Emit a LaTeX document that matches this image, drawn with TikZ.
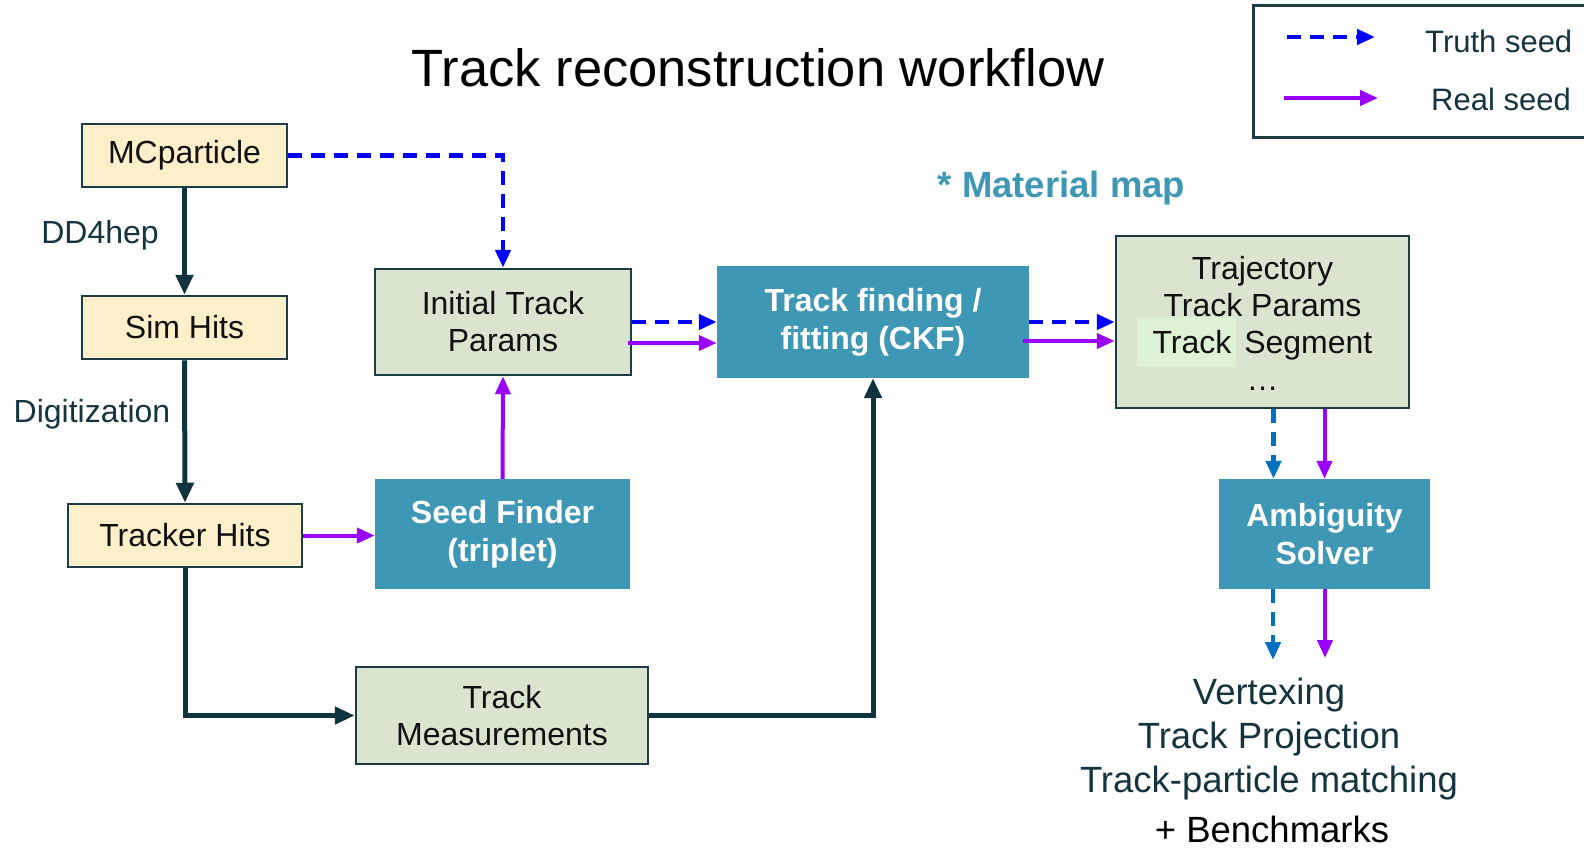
\documentclass[tikz,border=0pt]{standalone}
\usepackage{fontspec}
\setmainfont{Liberation Sans}
\usetikzlibrary{arrows.meta,calc}
\definecolor{tealc}{HTML}{3E97B4}
\definecolor{creamc}{HTML}{FCEFC9}
\definecolor{greenc}{HTML}{DAE5D0}
\definecolor{hlc}{HTML}{DDF2D4}
\definecolor{bordc}{HTML}{1E3C46}
\definecolor{flowc}{HTML}{10343F}
\definecolor{txtc}{HTML}{111111}
\definecolor{lblc}{HTML}{14343F}
\definecolor{truthc}{HTML}{0000FF}
\definecolor{truthb}{HTML}{0070C0}
\definecolor{realc}{HTML}{9900FF}
\tikzset{
  box/.style={draw=bordc, line width=2.5pt, inner sep=0pt, align=center,
    font=\fontsize{32}{37}\selectfont, text=txtc},
  ybox/.style={box, fill=creamc},
  gbox/.style={box, fill=greenc},
  tbox/.style={fill=tealc, inner sep=0pt, align=center, text=white,
    font=\bfseries\fontsize{32}{38}\selectfont},
  lbl/.style={inner sep=0pt, text=lblc, font=\fontsize{32}{37}\selectfont},
  ctip/.style={-{Triangle[length=18pt,width=15pt]}},
  truth/.style={draw=truthc, line width=4.5pt, dash pattern=on 14pt off 9pt, ctip},
  truthlow/.style={draw=truthb, line width=4.5pt, dash pattern=on 14pt off 9pt, ctip},
  real/.style={draw=realc, line width=4pt, ctip},
  flow/.style={draw=flowc, line width=5pt, -{Triangle[length=20pt,width=17pt]}},
}
\begin{document}
\begin{tikzpicture}[x=1pt,y=-1pt]
\useasboundingbox (0,0) rectangle (1584,849);
\clip (0,0) rectangle (1584,849);
\fill[white] (0,0) rectangle (1584,849);

% title
\node[inner sep=0pt, font=\fontsize{52.5}{60}\selectfont, text=black] (title) at (758,68) {Track reconstruction workflow};

% legend
\node[draw=bordc, line width=2.5pt, minimum width=345pt, minimum height=132pt, inner sep=0pt, anchor=north west] (legend) at (1252,4) {};
\coordinate (lt1) at (1287,37);
\coordinate (lt2) at (1375,37);
\draw[truth] (lt1) -- (lt2);
\coordinate (lr1) at (1284,98);
\coordinate (lr2) at (1378,98);
\draw[real] (lr1) -- (lr2);
\node[lbl, anchor=west, font=\fontsize{31}{37}\selectfont] (ltruth) at (1425,41) {Truth seed};
\node[lbl, anchor=west, font=\fontsize{31}{37}\selectfont] (lreal) at (1431,99) {Real seed};

% boxes
\node[ybox, minimum width=205pt, minimum height=63pt] (mc) at (184.5,155.5) {MCparticle};
\node[ybox, minimum width=205pt, minimum height=63pt] (sim) at (184.5,327.5) {Sim Hits};
\node[ybox, minimum width=234pt, minimum height=63pt] (trk) at (185,535.5) {Tracker Hits};
\node[gbox, minimum width=256pt, minimum height=106pt] (init) at (503,322) {Initial Track\\Params};
\node[tbox, minimum width=312pt, minimum height=112pt] (ckf) at (873,322) {Track finding /\\fitting (CKF)};
\node[gbox, minimum width=293pt, minimum height=172pt] (traj) at (1262.5,322) {};
\fill[hlc] (1137,317) rectangle (1236,367);
\node[inner sep=0pt, align=center, text=txtc, font=\fontsize{32}{37}\selectfont] (trajtext) at (1262.5,323) {Trajectory\\Track Params\\Track\hspace{4pt} Segment\\\ldots};
\node[tbox, minimum width=255pt, minimum height=110pt] (seed) at (502.5,534) {Seed Finder\\(triplet)};
\node[gbox, minimum width=292pt, minimum height=97pt] (meas) at (502,715.5) {Track\\Measurements};
\node[tbox, minimum width=211pt, minimum height=110pt] (amb) at (1324.5,534) {Ambiguity\\Solver};

% labels
\node[lbl] (dd4) at (100,235) {DD4hep};
\node[lbl] (digi) at (92,414) {Digitization};
\node[inner sep=0pt, text=tealc, font=\bfseries\fontsize{36.5}{42}\selectfont] (mat) at (1061.5,188) {* Material map};

% outputs
\node[inner sep=0pt, align=center, text=lblc, font=\fontsize{36.5}{44}\selectfont] (outs) at (1269,739) {Vertexing\\Track Projection\\Track-particle matching};
\node[inner sep=0pt, text=black, font=\fontsize{36.5}{44}\selectfont] (bench) at (1272,829) {+ Benchmarks};

% dark flow
\draw[flow] (mc.south) -- (sim.north);
\draw[flow] (sim.south) -- (trk.north);
\draw[flow] (trk.south) |- (meas.west);
\draw[flow] (meas.east) -| (ckf.south);

% truth seed
\draw[truth] (mc.east) -| (init.north);
\draw[truth] (init.east) -- (ckf.west);
\draw[truth] (ckf.east) -- (traj.west);

% real seed
\draw[real] (trk.east) -- (trk.east -| seed.west);
\draw[real] (seed.north) -- (init.south);
\draw[real] ($(init.east)+(-4,21)$) -- ($(ckf.west)+(0,21)$);
\draw[real] ($(ckf.east)+(-6,19)$) -- ($(traj.west)+(0,19)$);

% to ambiguity solver
\coordinate (ad) at ($(amb.north)+(-51,0)$);
\draw[truthlow] (ad |- traj.south) -- (ad);
\draw[real] (amb.north |- traj.south) -- (amb.north);

% from ambiguity solver
\coordinate (o1) at (1273,660);
\coordinate (o2) at (1325,658);
\draw[truthlow] (o1 |- amb.south) -- (o1);
\draw[real] (o2 |- amb.south) -- (o2);
\end{tikzpicture}
\end{document}
